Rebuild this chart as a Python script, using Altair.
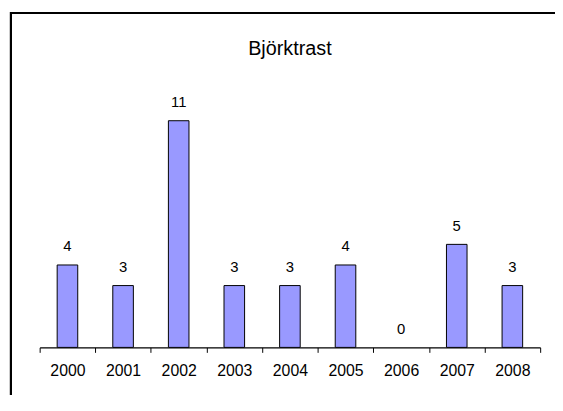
import altair as alt
import pandas as pd

years = ["2000", "2001", "2002", "2003", "2004", "2005", "2006", "2007", "2008"]
counts = [4, 3, 11, 3, 3, 4, 0, 5, 3]
title_text = "Björktrast"

df = pd.DataFrame({"year": years, "count": counts})

FONT = "Arial, Liberation Sans, sans-serif"

x_enc = alt.X(
    "year:N",
    sort=years,
    scale=alt.Scale(paddingInner=0, paddingOuter=0),
    axis=alt.Axis(
        title=None,
        labelAngle=0,
        labelFont=FONT,
        labelFontSize=16,
        labelColor="black",
        labelPadding=10,
        tickBand="extent",
        tickSize=5,
        tickColor="black",
        tickWidth=1,
        domainColor="black",
        domainWidth=1.2,
        grid=False,
    ),
)
y_enc = alt.Y("count:Q", scale=alt.Scale(domain=[0, 12]), axis=None)

base = alt.Chart(df)

frame = base.mark_rect(fill=None, stroke="black", strokeWidth=2).encode(
    x=alt.value(-29), x2=alt.value(560), y=alt.value(-88), y2=alt.value(400)
)

bars = base.mark_bar(
    color="#9999ff", stroke="black", strokeWidth=1,
    width=alt.RelativeBandSize(0.37),
).encode(
    x=x_enc,
    y=y_enc,
    strokeOpacity=alt.condition(alt.datum.count > 0, alt.value(1), alt.value(0)),
)

labels = base.mark_text(
    font=FONT, fontSize=15, color="black", baseline="alphabetic", dy=-14
).encode(x=x_enc, y=y_enc, text="count:Q")

chart = (
    alt.layer(frame, bars, labels)
    .properties(
        width=506,
        height=250,
        title=alt.TitleParams(
            title_text, font=FONT, fontSize=20, fontWeight="normal",
            color="black", anchor="middle", offset=-47, frame="group",
        ),
        autosize=alt.AutoSizeParams(type="none"),
        padding={"left": 32, "top": 91, "right": 15, "bottom": 46},
        background="white",
    )
    .configure_view(stroke=None)
)

chart.save("out.html", embed_options={"renderer": "svg", "actions": False})
